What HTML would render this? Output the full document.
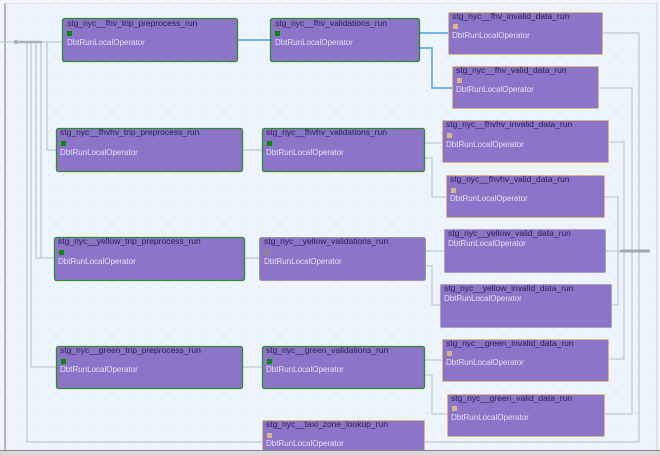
<!DOCTYPE html>
<html><head><meta charset="utf-8"><style>
html,body{margin:0;padding:0;width:660px;height:455px;overflow:hidden;background:#fff}
svg{display:block}
text{font-family:"Liberation Sans",sans-serif}
.t{font-size:8.5px;fill:#2a2050}
.o{font-size:8px;fill:#e6e0f6}
</style></head><body>
<svg width="660" height="455" viewBox="0 0 660 455">
<defs><pattern id="d" width="14" height="14" patternUnits="userSpaceOnUse"><circle cx="7" cy="7" r="0.6" fill="#c9d3de"/></pattern></defs>
<rect x="0" y="0" width="660" height="455" fill="#f3f6f9"/>
<rect x="5" y="3" width="652" height="447" fill="#eef4fb"/>
<rect x="5" y="3" width="652" height="447" fill="url(#d)"/>
<line x1="5" y1="3" x2="5" y2="450" stroke="#9aa2aa" stroke-width="1.5"/>
<line x1="5" y1="3.5" x2="657" y2="3.5" stroke="#dde3e9" stroke-width="1"/>
<line x1="657" y1="3" x2="657" y2="450" stroke="#c8d0d8" stroke-width="1"/>
<rect x="0" y="450" width="660" height="5" fill="#d8d8d8"/>
<line x1="0" y1="450.5" x2="660" y2="450.5" stroke="#888"/>
<g fill="none" stroke="#bfcad5" stroke-width="1.3">
<path d="M0 42 H62"/>
<path d="M27 42 V442 H262"/>
<path d="M31 42 V367 H56"/>
<path d="M36 42 V258 H54"/>
<path d="M41 42 V258"/>
<path d="M47 42 V150 H56"/>
<path d="M242 150 H262"/><path d="M244 258 H259"/><path d="M242 367 H262"/>
<path d="M424 143 H442"/><path d="M424 158 H432 V197 H446"/>
<path d="M425 251 H444"/><path d="M425 266 H432 V305 H440"/>
<path d="M424 360 H442"/><path d="M424 375 H432 V414 H447"/>
<path d="M602 33 H639 V442 H424"/>
<path d="M598 88 H632 V414 H604"/>
<path d="M608 142 H624 V359 H608"/>
<path d="M604 197 H618 V305 H611"/>
<path d="M605 251 H648"/>
</g>
<path d="M620 251 H650" stroke="#9fa9b4" stroke-width="3"/>
<circle cx="16" cy="42" r="2" fill="#9fa9b4"/>
<path d="M14 42 H42" stroke="#a9b3bd" stroke-width="2.5"/>
<g fill="none" stroke="#4aa0e0" stroke-width="1.5">
<path d="M237 40 H270"/><path d="M419 33 H448"/><path d="M419 48 H432 V88 H452"/>
</g>
<g font-family="Liberation Sans">
<!-- nodes -->
<g>
<rect x="62.5" y="18.5" width="175" height="43" rx="2" fill="#8c74c8" stroke="#2e8b2e" stroke-width="1.3"/><rect x="67" y="31" width="5" height="5" fill="#0a8a0a"/><text class="t" x="67" y="26">stg_nyc__fhv_trip_preprocess_run</text><text class="o" x="67" y="45">DbtRunLocalOperator</text>
<rect x="270.5" y="18.5" width="149" height="43" rx="2" fill="#8c74c8" stroke="#2e8b2e" stroke-width="1.3"/><rect x="275" y="31" width="5" height="5" fill="#0a8a0a"/><text class="t" x="275" y="26">stg_nyc__fhv_validations_run</text><text class="o" x="275" y="45">DbtRunLocalOperator</text>
<rect x="448.5" y="12.5" width="154" height="42" rx="1" fill="#8c74c8" stroke="#d8b88a" stroke-width="1"/><rect x="453" y="24" width="5" height="5" fill="#d8b88a"/><text class="t" x="452" y="19">stg_nyc__fhv_invalid_data_run</text><text class="o" x="452" y="38">DbtRunLocalOperator</text>
<rect x="452.5" y="66.5" width="146" height="42" rx="1" fill="#8c74c8" stroke="#d8b88a" stroke-width="1"/><rect x="457" y="78" width="5" height="5" fill="#d8b88a"/><text class="t" x="456" y="73">stg_nyc__fhv_valid_data_run</text><text class="o" x="456" y="92">DbtRunLocalOperator</text>

<rect x="56.5" y="128.5" width="186" height="43" rx="2" fill="#8c74c8" stroke="#2e8b2e" stroke-width="1.3"/><rect x="61" y="141" width="5" height="5" fill="#0a8a0a"/><text class="t" x="60" y="135">stg_nyc__fhvhv_trip_preprocess_run</text><text class="o" x="60" y="155">DbtRunLocalOperator</text>
<rect x="262.5" y="128.5" width="162" height="43" rx="2" fill="#8c74c8" stroke="#2e8b2e" stroke-width="1.3"/><rect x="267" y="141" width="5" height="5" fill="#0a8a0a"/><text class="t" x="266" y="135">stg_nyc__fhvhv_validations_run</text><text class="o" x="266" y="155">DbtRunLocalOperator</text>
<rect x="442.5" y="120.5" width="166" height="42" rx="1" fill="#8c74c8" stroke="#d8b88a" stroke-width="1"/><rect x="447" y="133" width="5" height="5" fill="#d8b88a"/><text class="t" x="446" y="127">stg_nyc__fhvhv_invalid_data_run</text><text class="o" x="446" y="147">DbtRunLocalOperator</text>
<rect x="446.5" y="175.5" width="158" height="42" rx="1" fill="#8c74c8" stroke="#d8b88a" stroke-width="1"/><rect x="451" y="188" width="5" height="5" fill="#d8b88a"/><text class="t" x="450" y="182">stg_nyc__fhvhv_valid_data_run</text><text class="o" x="450" y="201">DbtRunLocalOperator</text>

<rect x="54.5" y="237.5" width="190" height="43" rx="2" fill="#8c74c8" stroke="#2e8b2e" stroke-width="1.3"/><rect x="59" y="250" width="5" height="5" fill="#0a8a0a"/><text class="t" x="58" y="244">stg_nyc__yellow_trip_preprocess_run</text><text class="o" x="58" y="264">DbtRunLocalOperator</text>
<rect x="259.5" y="237.5" width="166" height="43" rx="2" fill="#8c74c8" stroke="#999" stroke-width="1"/><rect x="264" y="250" width="5" height="5" fill="#888"/><text class="t" x="264" y="244">stg_nyc__yellow_validations_run</text><text class="o" x="264" y="264">DbtRunLocalOperator</text>
<rect x="444.5" y="229.5" width="161" height="43" rx="1" fill="#8c74c8" stroke="#a9a0c8" stroke-width="1"/><text class="t" x="448" y="236">stg_nyc__yellow_valid_data_run</text><text class="o" x="448" y="246">DbtRunLocalOperator</text>
<rect x="440.5" y="284.5" width="171" height="43" rx="1" fill="#8c74c8" stroke="#a9a0c8" stroke-width="1"/><text class="t" x="444" y="291">stg_nyc__yellow_invalid_data_run</text><text class="o" x="444" y="301">DbtRunLocalOperator</text>

<rect x="56.5" y="346.5" width="186" height="42" rx="2" fill="#8c74c8" stroke="#2e8b2e" stroke-width="1.3"/><rect x="61" y="359" width="5" height="5" fill="#0a8a0a"/><text class="t" x="60" y="353">stg_nyc__green_trip_preprocess_run</text><text class="o" x="60" y="372">DbtRunLocalOperator</text>
<rect x="262.5" y="346.5" width="162" height="42" rx="2" fill="#8c74c8" stroke="#2e8b2e" stroke-width="1.3"/><rect x="267" y="359" width="5" height="5" fill="#0a8a0a"/><text class="t" x="266" y="353">stg_nyc__green_validations_run</text><text class="o" x="266" y="372">DbtRunLocalOperator</text>
<rect x="442.5" y="339.5" width="166" height="42" rx="1" fill="#8c74c8" stroke="#d8b88a" stroke-width="1"/><rect x="447" y="351" width="5" height="5" fill="#d8b88a"/><text class="t" x="446" y="346">stg_nyc__green_invalid_data_run</text><text class="o" x="446" y="365">DbtRunLocalOperator</text>
<rect x="447.5" y="394.5" width="157" height="42" rx="1" fill="#8c74c8" stroke="#d8b88a" stroke-width="1"/><rect x="452" y="406" width="5" height="5" fill="#d8b88a"/><text class="t" x="451" y="401">stg_nyc__green_valid_data_run</text><text class="o" x="451" y="420">DbtRunLocalOperator</text>

<rect x="262.5" y="420.5" width="162" height="42" rx="1" fill="#8c74c8" stroke="#d8b88a" stroke-width="1"/><rect x="267" y="433" width="5" height="5" fill="#d8b88a"/><text class="t" x="266" y="427">stg_nyc__taxi_zone_lookup_run</text><text class="o" x="266" y="446">DbtRunLocalOperator</text>
</g>
</g>
<rect x="0" y="450" width="660" height="5" fill="#d8d8d8"/>
<line x1="0" y1="450.5" x2="660" y2="450.5" stroke="#888"/>
</svg>
</body></html>
